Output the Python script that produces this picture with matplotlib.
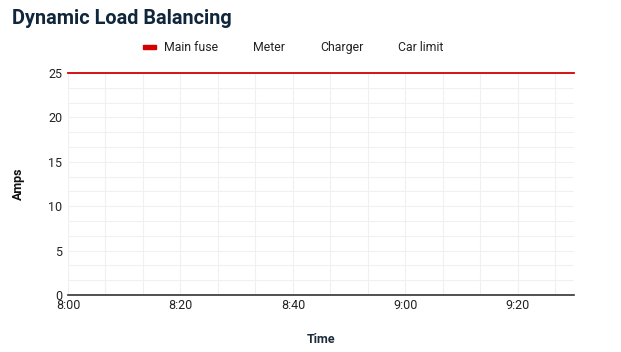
import matplotlib.pyplot as plt
from matplotlib.ticker import MultipleLocator, FuncFormatter
from matplotlib.patches import Rectangle

plt.rcParams['font.family'] = ['Roboto', 'DejaVu Sans']

# minutes after 8:00
time_min = [0, 90]
main_fuse = [25, 25]
meter = []
charger = []
car_limit = []

series_names = ['Main fuse', 'Meter', 'Charger', 'Car limit']
series_colors = ['#d40000', '#1f77b4', '#2ca02c', '#ff7f0e']


def fmt_time(v, pos):
    v = int(round(v))
    return f"{8 + v // 60}:{v % 60:02d}"


fig = plt.figure(figsize=(6.21, 3.52), dpi=100)
ax = fig.add_axes([68 / 621, 1 - 295 / 352, (574 - 68) / 621, (295 - 73) / 352])

ax.plot(time_min, main_fuse, color=series_colors[0], lw=1.3, zorder=5, clip_on=False)
ax.plot(time_min[:len(meter)], meter, color=series_colors[1])
ax.plot(time_min[:len(charger)], charger, color=series_colors[2])
ax.plot(time_min[:len(car_limit)], car_limit, color=series_colors[3])

ax.set_xlim(0, 90)
ax.set_ylim(0, 25)
ax.xaxis.set_major_locator(MultipleLocator(20))
ax.xaxis.set_minor_locator(MultipleLocator(20 / 3))
ax.yaxis.set_major_locator(MultipleLocator(5))
ax.yaxis.set_minor_locator(MultipleLocator(5 / 3))
ax.xaxis.set_major_formatter(FuncFormatter(fmt_time))

ax.grid(True, which='both', color='#f0f0f0', lw=0.8, zorder=0)
for s in ['top', 'right', 'left']:
    ax.spines[s].set_visible(False)
ax.spines['bottom'].set_color('#333333')
ax.spines['bottom'].set_linewidth(1.2)
ax.spines['bottom'].set_zorder(4)
ax.tick_params(which='both', length=0, labelsize=9, colors='#222222', pad=4)
ax.tick_params(axis='x', pad=3)

ax.set_ylabel('Amps', fontsize=9, fontweight='bold', color='#111111', labelpad=17)
ax.set_xlabel('Time', fontsize=9, fontweight='bold', color='#1c2b3a', labelpad=15)

fig.text(12 / 621, 1 - 19 / 352, 'Dynamic Load Balancing', fontsize=14.3,
         fontweight='bold', color='#10263b', va='center', ha='left')

# legend: only the main fuse has a visible key
fig.patches.append(Rectangle((143 / 621, 1 - 49 / 352), 13 / 621, 4 / 352,
                             transform=fig.transFigure, color=series_colors[0]))
label_x = [164, 253, 320, 398]
for name, x in zip(series_names, label_x):
    fig.text(x / 621, 1 - 47.5 / 352, name, fontsize=8.8, color='#222222',
             va='center', ha='left')

fig.savefig('out.png', dpi=100, facecolor='white')
